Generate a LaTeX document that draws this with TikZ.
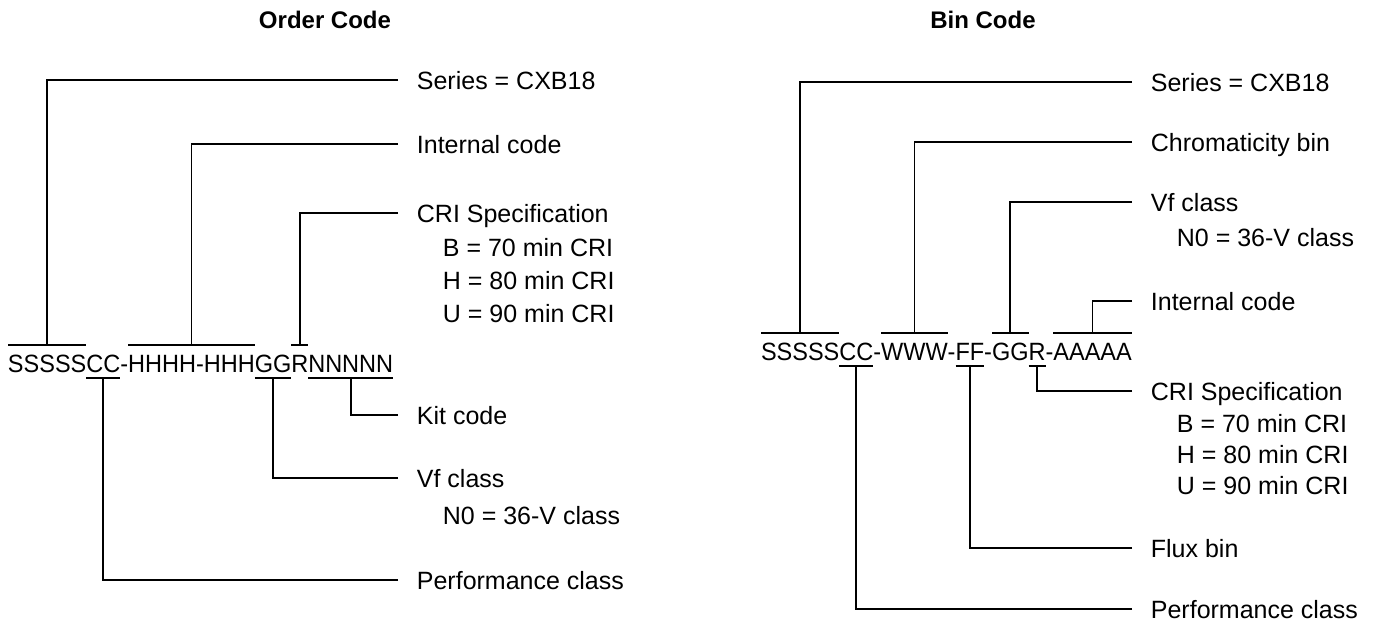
\documentclass[tikz,border=0pt]{standalone}
\usepackage{fontspec}
\setmainfont{Liberation Sans}
\newfontfamily\codefont[FakeStretch=0.94]{Liberation Sans}
\usetikzlibrary{positioning}

\begin{document}
\begin{tikzpicture}[x=0.5pt,y=-0.5pt,line width=0.9pt,
    code/.style={inner sep=0pt,outer sep=0pt,anchor=base west,font=\codefont\fontsize{12.5}{15}\selectfont,text height=9pt,text depth=0pt},
    lbl/.style={anchor=west,inner xsep=9pt,inner ysep=0pt,font=\fontsize{12.5}{15}\selectfont,text height=9pt,text depth=0pt},
    sub/.style={lbl,xshift=13pt},
    title/.style={font=\bfseries\fontsize{12}{14}\selectfont}]
    \useasboundingbox (0,0) rectangle (1380,622);

    % order code
    \node[title] (ordertitle) at (325,20) {Order Code};
    \node[code] (os) at (8,372) {SSSSS};
    \node[code] (oc) [right=0pt of os] {CC};
    \node[code] (od) [right=0pt of oc] {-};
    \node[code] (oh) [right=0pt of od] {HHHH-HHH};
    \node[code] (og) [right=0pt of oh] {GG};
    \node[code] (or) [right=0pt of og] {R};
    \node[code] (on) [right=0pt of or] {NNNNN};

    \node[lbl] (oseries) at (398,80) {Series = CXB18};
    \node[lbl] (ointernal) at (398,144) {Internal code};
    \node[lbl] (ocri) at (398,213) {CRI Specification};
    \node[sub] (ocrib) at (398,247) {B = 70 min CRI};
    \node[sub] (ocrih) at (398,280) {H = 80 min CRI};
    \node[sub] (ocriu) at (398,313) {U = 90 min CRI};
    \node[lbl] (okit) at (398,415) {Kit code};
    \node[lbl] (ovf) at (398,478) {Vf class};
    \node[sub] (ovfn) at (398,515) {N0 = 36-V class};
    \node[lbl] (operf) at (398,580) {Performance class};

    % bin code
    \node[title] (bintitle) at (983,20) {Bin Code};
    \node[code] (bs) at (761,360) {SSSSS};
    \node[code] (bc) [right=0pt of bs] {CC};
    \node[code] (bd1) [right=0pt of bc] {-};
    \node[code] (bw) [right=0pt of bd1] {WWW};
    \node[code] (bd2) [right=0pt of bw] {-};
    \node[code] (bf) [right=0pt of bd2] {FF};
    \node[code] (bd3) [right=0pt of bf] {-};
    \node[code] (bg) [right=0pt of bd3] {GG};
    \node[code] (br) [right=0pt of bg] {R};
    \node[code] (bd4) [right=0pt of br] {-};
    \node[code] (ba) [right=0pt of bd4] {AAAAA};

    \node[lbl] (bseries) at (1132,82) {Series = CXB18};
    \node[lbl] (bchroma) at (1132,142) {Chromaticity bin};
    \node[lbl] (bvf) at (1132,202) {Vf class};
    \node[sub] (bvfn) at (1132,237) {N0 = 36-V class};
    \node[lbl] (binternal) at (1132,301) {Internal code};
    \node[lbl] (bcri) at (1132,391) {CRI Specification};
    \node[sub] (bcrib) at (1132,423) {B = 70 min CRI};
    \node[sub] (bcrih) at (1132,454) {H = 80 min CRI};
    \node[sub] (bcriu) at (1132,485) {U = 90 min CRI};
    \node[lbl] (bflux) at (1132,548) {Flux bin};
    \node[lbl] (bperf) at (1132,609) {Performance class};

    % bars over and under the code letters
    \foreach \n in {os,oh,or,bs,bw,bg,ba}
        \draw ([yshift=4.5pt]\n.north west) -- ([yshift=4.5pt]\n.north east);
    \foreach \n in {oc,og,on,bc,bf,br}
        \draw ([yshift=-3pt]\n.south west) -- ([yshift=-3pt]\n.south east);

    % connectors
    \draw (oseries.west) -| ([yshift=4.5pt]os.north);
    \draw (ointernal.west) -| ([yshift=4.5pt]oh.north);
    \draw (ocri.west) -| ([yshift=4.5pt]or.north);
    \draw (okit.west) -| ([yshift=-3pt]on.south);
    \draw (ovf.west) -| ([yshift=-3pt]og.south);
    \draw (operf.west) -| ([yshift=-3pt]oc.south);

    \draw (bseries.west) -| ([yshift=4.5pt]bs.north);
    \draw (bchroma.west) -| ([yshift=4.5pt]bw.north);
    \draw (bvf.west) -| ([yshift=4.5pt]bg.north);
    \draw (binternal.west) -| ([yshift=4.5pt]ba.north);
    \draw (bcri.west) -| ([yshift=-3pt]br.south);
    \draw (bflux.west) -| ([yshift=-3pt]bf.south);
    \draw (bperf.west) -| ([yshift=-3pt]bc.south);
\end{tikzpicture}
\end{document}
